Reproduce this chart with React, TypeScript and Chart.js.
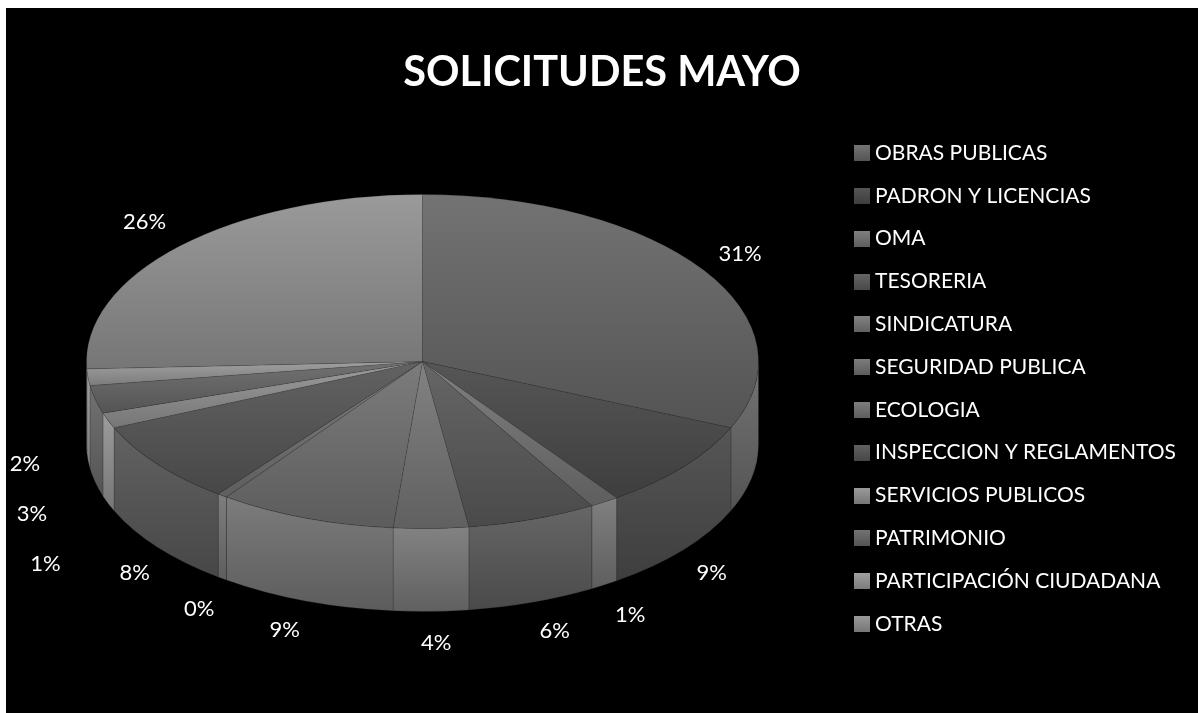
import React, { useEffect, useRef } from "react";
import { Chart, registerables } from "chart.js";

Chart.register(...registerables);

const titleText = "SOLICITUDES MAYO";
const categories = [
  "OBRAS PUBLICAS", "PADRON Y LICENCIAS", "OMA", "TESORERIA", "SINDICATURA", "SEGURIDAD PUBLICA",
  "ECOLOGIA", "INSPECCION Y REGLAMENTOS", "SERVICIOS PUBLICOS", "PATRIMONIO", "PARTICIPACIÓN CIUDADANA", "OTRAS",
];
const shares = [31.49, 8.7, 1.4, 6.2, 3.6, 8.52, 0.49, 8.1, 1.49, 2.7, 1.6, 25.7];
const lightShades = ["#737373", "#565656", "#808080", "#666666", "#828282", "#7c7c7c", "#7e7e7e", "#626262", "#9c9c9c", "#727272", "#a0a0a0", "#9a9a9a"];
const darkShades = ["#545454", "#3e3e3e", "#5e5e5e", "#4a4a4a", "#606060", "#5c5c5c", "#5e5e5e", "#474747", "#767676", "#545454", "#7c7c7c", "#767676"];

// Layout of the flattened pie and nudges of its percent labels, in canvas pixels.
const PIE = { cx: 416.5, cy: 353.5, rx: 336, ry: 167, depth: 83 };
const labelNudges = [[3, -5], [-3, 11], [4, 13], [9, 10], [4, 11], [-7, 10], [1, 14], [9, 13], [-25, 53], [-24, 27], [-23, 2], [-6, -10]];
const FONT = "Lato";

function swatch(i: number) {
  const c = document.createElement("canvas");
  c.width = 16;
  c.height = 16;
  const g = c.getContext("2d")!;
  const grad = g.createLinearGradient(0, 0, 0, 16);
  grad.addColorStop(0, lightShades[i]);
  grad.addColorStop(1, darkShades[i]);
  g.fillStyle = grad;
  g.fillRect(0, 0, 16, 16);
  return c;
}

const pie3d = {
  id: "pie3d",
  beforeDraw(chart: any) {
    const { ctx, width, height } = chart;
    ctx.save();
    ctx.fillStyle = "#000";
    ctx.fillRect(0, 0, width, height);
    ctx.restore();
  },
  beforeDatasetDraw(chart: any) {
    const { ctx } = chart;
    const arcs = chart.getDatasetMeta(0).data;
    const { cx, cy, rx, ry, depth } = PIE;
    // curved outer wall of each slice, only on the front half
    arcs.forEach((arc: any, i: number) => {
      const a = Math.max(arc.startAngle, 0);
      const b = Math.min(arc.endAngle, Math.PI);
      if (b <= a) return;
      const ya = cy + ry * Math.sin(a);
      const yb = cy + ry * Math.sin(b);
      const hasBottom = a < Math.PI / 2 && b > Math.PI / 2;
      const top = Math.min(ya, yb);
      const bottom = (hasBottom ? cy + ry : Math.max(ya, yb)) + depth;
      const grad = ctx.createLinearGradient(0, top, 0, bottom);
      grad.addColorStop(0, lightShades[i]);
      grad.addColorStop(1, darkShades[i]);
      ctx.save();
      ctx.beginPath();
      ctx.ellipse(cx, cy, rx, ry, 0, a, b);
      ctx.ellipse(cx, cy + depth, rx, ry, 0, b, a, true);
      ctx.closePath();
      ctx.fillStyle = grad;
      ctx.fill();
      ctx.strokeStyle = "rgba(40,40,40,0.4)";
      ctx.lineWidth = 0.6;
      ctx.stroke();
      ctx.restore();
    });
    // top face: the library's own arcs, flattened into an ellipse
    const first = arcs[0];
    const R = first.outerRadius;
    const sx = rx / R;
    const sy = ry / R;
    arcs.forEach((arc: any, i: number) => {
      const pts = [arc.startAngle, arc.endAngle];
      for (let k = -2; k <= 2; k++) {
        const q = (k * Math.PI) / 2;
        if (q > arc.startAngle && q < arc.endAngle) pts.push(q);
      }
      const ys = pts.map((t) => arc.y + R * Math.sin(t)).concat(arc.y);
      const grad = ctx.createLinearGradient(0, Math.min(...ys), 0, Math.max(...ys));
      grad.addColorStop(0, lightShades[i]);
      grad.addColorStop(1, darkShades[i]);
      arc.options = { ...arc.options, backgroundColor: grad };
    });
    ctx.save();
    ctx.translate(cx, cy);
    ctx.scale(sx, sy);
    ctx.translate(-first.x, -first.y);
  },
  afterDatasetDraw(chart: any) {
    const { ctx } = chart;
    ctx.restore();
    const arcs = chart.getDatasetMeta(0).data;
    const total = shares.reduce((s, v) => s + v, 0);
    const { cx, cy, rx, ry, depth } = PIE;
    ctx.save();
    ctx.font = `22px ${FONT}`;
    ctx.fillStyle = "#fff";
    ctx.textAlign = "center";
    ctx.textBaseline = "middle";
    arcs.forEach((arc: any, i: number) => {
      const t = (arc.startAngle + arc.endAngle) / 2;
      const s = Math.sin(t);
      const x = cx + 1.12 * rx * Math.cos(t) + labelNudges[i][0];
      const y = cy + 1.12 * ry * s + (s > 0 ? depth : 0) + labelNudges[i][1];
      ctx.fillText(`${Math.round((shares[i] / total) * 100)}%`, x, y);
    });
    ctx.restore();
  },
};

export default function App() {
  const ref = useRef<HTMLCanvasElement>(null);
  useEffect(() => {
    document.body.style.margin = "0";
    document.body.style.overflow = "hidden";
    const chart = new Chart(ref.current!, {
      type: "pie",
      data: {
        labels: categories,
        datasets: [
          {
            data: shares,
            backgroundColor: lightShades,
            borderColor: "rgba(40,40,40,0.35)",
            borderWidth: 0.6,
          },
        ],
      },
      options: {
        responsive: false,
        animation: false,
        devicePixelRatio: 1,
        layout: { padding: { left: 12, right: 12, top: 40, bottom: -16 } },
        plugins: {
          tooltip: { enabled: false },
          title: {
            display: true,
            text: titleText,
            color: "#fff",
            font: { family: FONT, size: 41.5, weight: "bold" },
            padding: { top: 0, bottom: 20 },
          },
          legend: {
            display: true,
            position: "right",
            align: "center",
            labels: {
              color: "#fff",
              font: { family: FONT, size: 21 },
              usePointStyle: true,
              pointStyleWidth: 5,
              boxHeight: 16,
              padding: 21.8,
              textAlign: "left",
              generateLabels: () =>
                categories.map((text, i) => ({
                  text,
                  fontColor: "#fff",
                  fillStyle: lightShades[i],
                  strokeStyle: "transparent",
                  lineWidth: 0,
                  pointStyle: swatch(i),
                  index: i,
                  hidden: false,
                })),
            },
          },
        },
      } as any,
      plugins: [pie3d as any],
    });
    return () => chart.destroy();
  }, []);
  return (
    <canvas
      ref={ref}
      width={1192}
      height={705}
      style={{ position: "fixed", left: 6, top: 8, width: 1192, height: 705, display: "block" }}
    />
  );
}
